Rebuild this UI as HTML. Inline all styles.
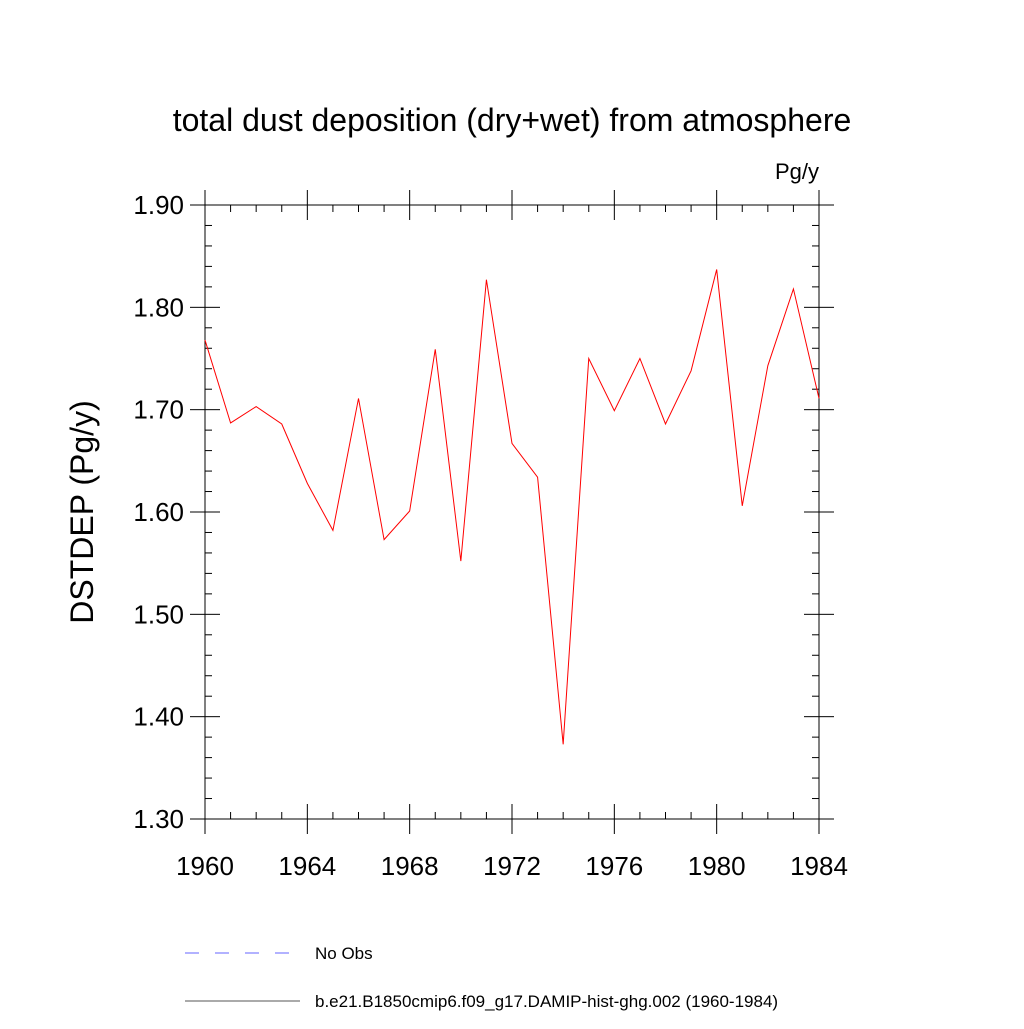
<!DOCTYPE html>
<html><head><meta charset="utf-8"><style>
body{margin:0;background:#fff}
svg text{font-family:"Liberation Sans",sans-serif}
</style></head><body>
<svg id="c" width="1024" height="1024" xmlns="http://www.w3.org/2000/svg">
<rect width="1024" height="1024" fill="#fff"/>
<text x="512" y="131" font-size="32" text-anchor="middle">total dust deposition (dry+wet) from atmosphere</text>
<text x="819" y="179" font-size="22" text-anchor="end">Pg/y</text>
<text transform="translate(93,512) rotate(-90)" font-size="32" text-anchor="middle">DSTDEP  (Pg/y)</text>
<g id="axes"></g>
<g id="series"></g>
<g>
<line x1="185" y1="953" x2="295" y2="953" stroke="#6666ff" stroke-width="1" stroke-dasharray="14,16"/>
<text x="315" y="959" font-size="17">No Obs</text>
<line x1="185" y1="1001" x2="300" y2="1001" stroke="#555" stroke-width="1"/>
<text x="315" y="1007" font-size="17">b.e21.B1850cmip6.f09_g17.DAMIP-hist-ghg.002 (1960-1984)</text>
</g>
</svg>
<script>
const years=[1960,1961,1962,1963,1964,1965,1966,1967,1968,1969,1970,1971,1972,1973,1974,1975,1976,1977,1978,1979,1980,1981,1982,1983,1984];
const values=[1.768,1.687,1.703,1.686,1.628,1.582,1.711,1.573,1.601,1.759,1.552,1.827,1.667,1.634,1.373,1.750,1.699,1.750,1.686,1.738,1.837,1.606,1.743,1.818,1.711];
const xTicks=[1960,1964,1968,1972,1976,1980,1984];
const yTicks=[1.30,1.40,1.50,1.60,1.70,1.80,1.90];
const L=205,R=819,T=205,B=819;
const xs=v=>L+(v-1960)/24*(R-L);
const ys=v=>B-(v-1.30)/0.6*(B-T);
const NS="http://www.w3.org/2000/svg";
const ax=document.getElementById('axes');
function mk(tag,at,parent){const e=document.createElementNS(NS,tag);for(const k in at)e.setAttribute(k,at[k]);parent.appendChild(e);return e;}
const fr=mk('rect',{x:L,y:T,width:R-L,height:B-T,fill:'none',stroke:'#000','stroke-width':1},ax);


for(let y=1960;y<=1984;y++){
  const x=xs(y);const maj=(y-1960)%4===0;const len=maj?15:7;
  mk('line',{x1:x,y1:B,x2:x,y2:B-len,stroke:'#000'},ax);
  mk('line',{x1:x,y1:T,x2:x,y2:T+len,stroke:'#000'},ax);
  if(maj){mk('line',{x1:x,y1:B,x2:x,y2:B+15,stroke:'#000'},ax);mk('line',{x1:x,y1:T,x2:x,y2:T-15,stroke:'#000'},ax);}
}
xTicks.forEach(v=>{const t=mk('text',{x:xs(v),y:B+56,'font-size':26,'text-anchor':'middle'},ax);t.textContent=v;

});
for(let i=0;i<=30;i++){
  const v=1.30+i*0.02;const y=ys(v);const maj=i%5===0;const len=maj?15:7;
  mk('line',{x1:L,y1:y,x2:L+len,y2:y,stroke:'#000'},ax);
  mk('line',{x1:R,y1:y,x2:R-len,y2:y,stroke:'#000'},ax);
  if(maj){mk('line',{x1:L,y1:y,x2:L-15,y2:y,stroke:'#000'},ax);mk('line',{x1:R,y1:y,x2:R+15,y2:y,stroke:'#000'},ax);}
}
yTicks.forEach(v=>{const t=mk('text',{x:L-21,y:ys(v)+9,'font-size':26,'text-anchor':'end'},ax);t.textContent=v.toFixed(2);

});
const pts=years.map((y,i)=>xs(y)+','+ys(values[i])).join(' ');
const pl=mk('polyline',{points:pts,fill:'none',stroke:'#ff0000','stroke-width':1},document.getElementById('series'));


</script>
</body></html>
